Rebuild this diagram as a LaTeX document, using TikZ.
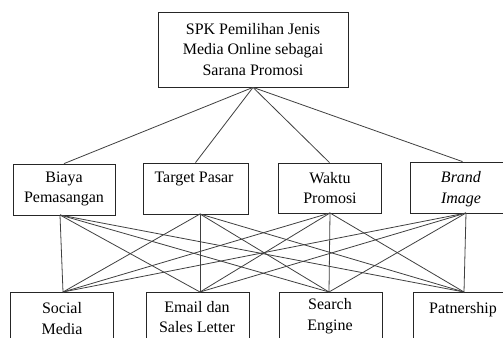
\documentclass[tikz,border=0pt]{standalone}
\usepackage{fontspec}
\setmainfont{Liberation Serif}
\begin{document}
\begin{tikzpicture}[x=0.75pt,y=-0.75pt,
  box/.style={draw=black!85, line width=0.6pt, rectangle, inner sep=0pt},
  lbl/.style={align=center, font=\fontsize{12}{15.5}\selectfont, inner sep=0pt},
  link/.style={draw=black!75, line width=0.6pt}]
\useasboundingbox (0,0) rectangle (503,338);
\clip (0,0) rectangle (503,338);
\fill[white] (0,0) rectangle (503,338);

% top box
\node[box, minimum width=142.5pt, minimum height=56.25pt] (top) at (253,49.5) {};
\node[lbl] (ttop) at (253,49.5) {SPK Pemilihan Jenis\\Media Online sebagai\\Sarana Promosi};

% criteria row
\node[box, minimum width=76.5pt, minimum height=38.25pt] (b1) at (64,189.5) {};
\node[box, minimum width=78.75pt, minimum height=38.25pt] (b2) at (195.5,188.5) {};
\node[box, minimum width=77.25pt, minimum height=37.5pt] (b3) at (329.5,188) {};
\node[box, minimum width=78.75pt, minimum height=38.25pt] (b4) at (462.5,187.5) {};
\node[lbl] (t1) at (64,189) {Biaya\\Pemasangan};
\node[lbl] (t2) at (194,179) {Target Pasar};
\node[lbl] (t3) at (330,188) {Waktu\\Promosi};
\node[lbl] (t4) at (461,189) {\textit{Brand}\\\textit{Image}};

% alternatives row
\node[box, minimum width=77.25pt, minimum height=45pt] (c1) at (61.5,322) {};
\node[box, minimum width=77.25pt, minimum height=45pt] (c2) at (197.5,322) {};
\node[box, minimum width=77.25pt, minimum height=45pt] (c3) at (330.5,322) {};
\node[box, minimum width=77.25pt, minimum height=45pt] (c4) at (464.5,322) {};
\node[lbl] (u1) at (62,318.5) {Social\\Media};
\node[lbl] (u2) at (197,317) {Email dan\\Sales Letter};
\node[lbl] (u3) at (330,316) {Search\\Engine};
\node[lbl] (u4) at (463,310) {Patnership};

% connectors top -> criteria
\foreach \i in {1,...,4} \draw[link] (top.south) -- (b\i.north);

% connection points
\coordinate (q1) at (60,215);
\coordinate (q2) at (200,214);
\coordinate (q3) at (330,213);
\coordinate (q4) at (466,213);
\coordinate (p1) at (63,292);
\coordinate (p2) at (200,292);
\coordinate (p3) at (329,292);
\coordinate (p4) at (464,292);

\foreach \i in {1,...,4}
  \foreach \j in {1,...,4}
    \draw[link] (q\i) -- (p\j);
\end{tikzpicture}
\end{document}
